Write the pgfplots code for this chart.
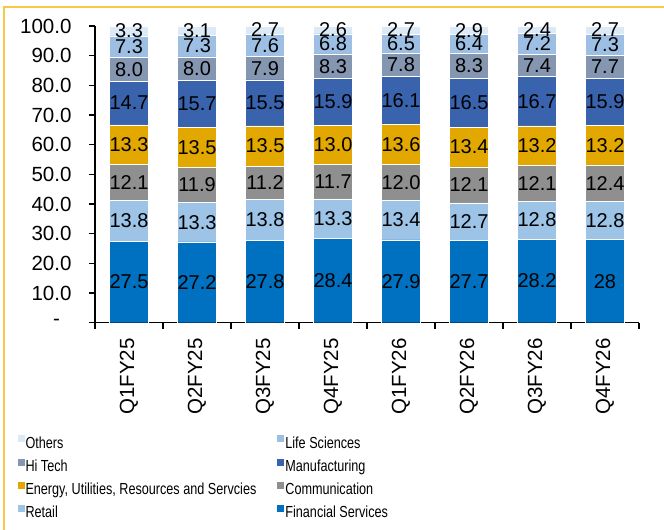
\documentclass[border=0pt]{standalone}
\usepackage{fontspec}
\setmainfont{Liberation Sans}
\newfontfamily\legendfont[FakeStretch=0.79]{Liberation Sans}
\usepackage{pgfplots}
\usepackage{pgfplotstable}
\pgfplotsset{compat=1.18}

\definecolor{finc}{HTML}{0070C0}
\definecolor{retc}{HTML}{9DC3E6}
\definecolor{comc}{HTML}{8F8F8F}
\definecolor{enec}{HTML}{E2A800}
\definecolor{manc}{HTML}{3A63AE}
\definecolor{hitc}{HTML}{8496B0}
\definecolor{lifc}{HTML}{9DBFE4}
\definecolor{othc}{HTML}{DCE9F6}
\definecolor{framec}{HTML}{F9C846}

% share of revenue by vertical, bottom to top
\pgfplotstableread{
x fin retail comm energy manuf hitech life others
0 27.5 13.8 12.1 13.3 14.7 8.0 7.3 3.3
1 27.2 13.3 11.9 13.5 15.7 8.0 7.3 3.1
2 27.8 13.8 11.2 13.5 15.5 7.9 7.6 2.7
3 28.4 13.3 11.7 13.0 15.9 8.3 6.8 2.6
4 27.9 13.4 12.0 13.6 16.1 7.8 6.5 2.7
5 27.7 12.7 12.1 13.4 16.5 8.3 6.4 2.9
6 28.2 12.8 12.1 13.2 16.7 7.4 7.2 2.4
7 28 12.8 12.4 13.2 15.9 7.7 7.3 2.7
}\verticals

\begin{document}
\begin{tikzpicture}
\useasboundingbox (0pt,0pt) rectangle (664pt,530pt);
\draw[framec, line width=1.2pt] (4pt,0pt) -- (4pt,523pt) -- (664pt,523pt);
\begin{axis}[
    at={(95pt,207.3pt)}, anchor=south west,
    scale only axis, width=544pt, height=296.7pt,
    ybar stacked, bar width=39pt,
    xmin=-0.5, xmax=7.5, ymin=0, ymax=100,
    enlargelimits=false,
    axis x line*=bottom, axis y line*=left,
    axis line style={line width=1.4pt, black},
    tick align=outside, major tick length=6pt,
    tick style={line width=1.4pt, black},
    xtick={-0.5,0.5,...,7.5}, x tick label as interval,
    xticklabels={Q1FY25,Q2FY25,Q3FY25,Q4FY25,Q1FY26,Q2FY26,Q3FY26,Q4FY26},
    xticklabel style={rotate=90, anchor=east},
    xticklabel shift=6pt, yticklabel shift=14pt,
    ytick={0,10,...,100},
    yticklabels={{-\hphantom{0}},10.0,20.0,30.0,40.0,50.0,60.0,70.0,80.0,90.0,100.0},
    tick label style={font=\fontsize{20.5}{24}\selectfont},
    every axis plot/.append style={draw=white, line width=0.4pt},
    nodes near coords, point meta=explicit symbolic,
    every node near coord/.append style={anchor=center,
        font=\fontsize{20}{24}\selectfont, text=black, inner sep=0pt},
    reverse legend, legend columns=2, legend cell align=left,
    legend image code/.code={\fill[#1, draw=none] (0pt,2pt) rectangle (7pt,9pt);},
    legend style={draw=none, fill=none, at={(-0.1428,-0.370)}, anchor=north west,
        inner sep=0pt, font=\legendfont\fontsize{16}{18}\selectfont,
        nodes={text height=11pt, text depth=3.5pt, inner ysep=4.4pt, inner xsep=1pt},
        /tikz/every even column/.append style={column sep=20pt}},
]
\addplot[fill=finc] table[x=x, y=fin, meta=fin] {\verticals};
\addlegendentry{Financial Services}
\addplot[fill=retc] table[x=x, y=retail, meta=retail] {\verticals};
\addlegendentry{Retail}
\addplot[fill=comc] table[x=x, y=comm, meta=comm] {\verticals};
\addlegendentry{Communication}
\addplot[fill=enec] table[x=x, y=energy, meta=energy] {\verticals};
\addlegendentry{Energy, Utilities, Resources and Servcies}
\addplot[fill=manc] table[x=x, y=manuf, meta=manuf] {\verticals};
\addlegendentry{Manufacturing}
\addplot[fill=hitc] table[x=x, y=hitech, meta=hitech] {\verticals};
\addlegendentry{Hi Tech}
\addplot[fill=lifc] table[x=x, y=life, meta=life] {\verticals};
\addlegendentry{Life Sciences}
\addplot[fill=othc] table[x=x, y=others, meta=others] {\verticals};
\addlegendentry{Others}
\end{axis}
\end{tikzpicture}
\end{document}
